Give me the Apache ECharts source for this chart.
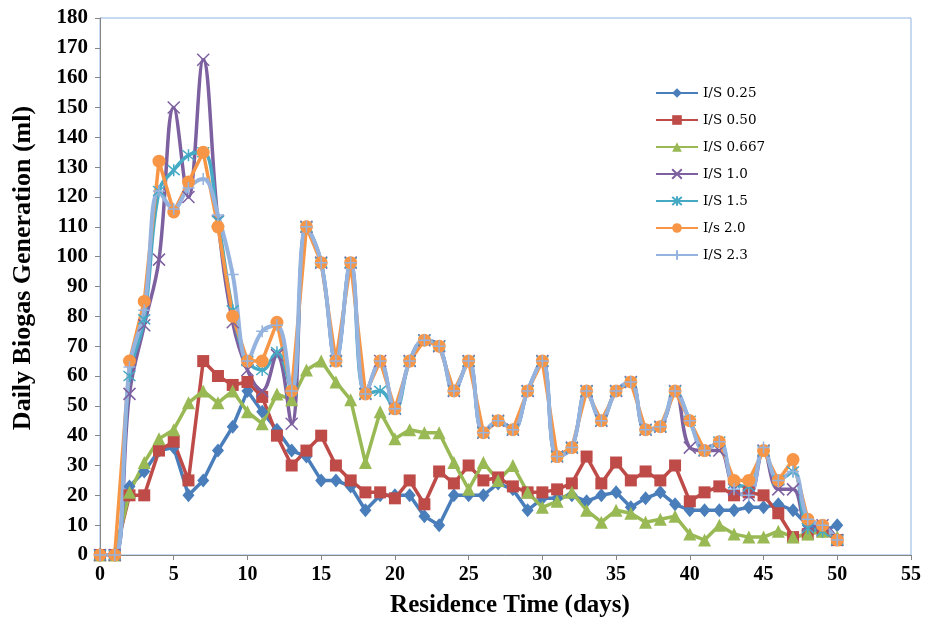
<!DOCTYPE html>
<html>
<head>
<meta charset="utf-8">
<script src="https://cdn.jsdelivr.net/npm/echarts@6/dist/echarts.min.js"></script>
<style>
html,body{margin:0;padding:0;background:#fff;}
#c{width:935px;height:622px;}
</style>
</head>
<body>
<div id="c"></div>
<script>
var days = [0,1,2,3,4,5,6,7,8,9,10,11,12,13,14,15,16,17,18,19,20,21,22,23,24,25,26,27,28,29,30,31,32,33,34,35,36,37,38,39,40,41,42,43,44,45,46,47,48,49,50];
var is025 = [0,0,23,28,35,36,20,25,35,43,55,48,42,35,33,25,25,23,15,20,20,20,13,10,20,20,20,24,22,15,19,19,20,18,20,21,16,19,21,17,15,15,15,15,16,16,17,15,10,8,10];
var is050 = [0,0,20,20,35,38,25,65,60,57,58,53,40,30,35,40,30,25,21,21,19,25,17,28,24,30,25,26,23,21,21,22,24,33,24,31,25,28,25,30,18,21,23,20,21,20,14,6,7,8,5];
var is0667 = [0,0,21,31,39,42,51,55,51,55,48,44,54,52,62,65,58,52,31,48,39,42,41,41,31,22,31,25,30,21,16,18,21,15,11,15,14,11,12,13,7,5,10,7,6,6,8,6,7,8,6];
var is10 = [0,0,54,77,99,150,120,166,112,78,62,55,67,44,110,98,65,98,54,65,49,65,72,70,55,65,41,45,42,55,65,33,36,55,45,55,58,42,43,55,36,35,35,22,20,35,22,22,10,10,5];
var is15 = [0,0,60,79,122,129,134,135,112,82,65,62,68,55,110,98,65,98,54,55,49,65,72,70,55,65,41,45,42,55,65,33,36,55,45,55,58,42,43,55,45,35,38,24,23,35,25,28,9,8,5];
var is20 = [0,0,65,85,132,115,125,135,110,80,65,65,78,55,110,98,65,98,54,65,49,65,72,70,55,65,41,45,42,55,65,33,36,55,45,55,58,42,43,55,45,35,38,25,25,35,25,32,12,10,5];
var is23 = [0,0,63,82,122,116,123,126,114,94,65,75,77,55,110,98,65,98,54,65,49,65,72,70,55,65,41,45,42,55,65,33,36,55,45,55,58,42,43,55,45,35,38,22,20,36,25,28,12,10,5];
var seriesNames = ['I/S 0.25','I/S 0.50','I/S 0.667','I/S 1.0','I/S 1.5','I/s 2.0','I/S 2.3'];
var xTicks = {min:0, max:55, step:5};
var yTicks = {min:0, max:180, step:10};

function pairs(arr){ return days.map(function(d,i){ return [d, arr[i]]; }); }

var X_SYM = 'path://M0,0L10,10M10,0L0,10';
var AST_SYM = 'path://M0,0L10,10M10,0L0,10M5,-1L5,11';
var PLUS_SYM = 'path://M5,0L5,10M0,5L10,5';

var defs = [
  {data:is025, color:'#4A7EBB', symbol:'diamond', size:[12,14], smooth:false, w:3.5},
  {data:is050, color:'#BE4B48', symbol:'rect', size:12, smooth:false, w:3.5},
  {data:is0667, color:'#98B954', symbol:'triangle', size:13, smooth:false, w:3.5},
  {data:is10, color:'#7D60A0', symbol:X_SYM, size:12, smooth:0.4, stroke:true, w:3.5},
  {data:is15, color:'#46AAC5', symbol:AST_SYM, size:12, smooth:0.4, stroke:true, w:3.5},
  {data:is20, color:'#F79646', symbol:'circle', size:13, smooth:false, w:3.5},
  {data:is23, color:'#95B3DF', symbol:PLUS_SYM, size:12, smooth:0.4, stroke:true, w:4}
];

var series = defs.map(function(d, i){
  return {
    name: seriesNames[i],
    type: 'line',
    data: pairs(d.data),
    smooth: d.smooth,
    symbol: d.symbol,
    symbolSize: d.size,
    showAllSymbol: true,
    lineStyle: {color: d.color, width: d.w},
    itemStyle: d.stroke ? {color: d.color, borderColor: d.color, borderWidth: 1.5} : {color: d.color, borderWidth: 0},
    emphasis: {disabled: true},
    animation: false
  };
});

var chart = echarts.init(document.getElementById('c'), null, {renderer:'canvas'});
chart.setOption({
  backgroundColor: '#ffffff',
  animation: false,
  grid: {left:100, right:24, top:18, bottom:67, show:true, borderColor:'#8DB4E2', borderWidth:1, backgroundColor:'transparent'},
  legend: {
    orient: 'vertical',
    left: 650, top: 81,
    itemWidth: 42, itemHeight: 12, itemGap: 13,
    textStyle: {fontFamily:'DejaVu Serif', fontSize:13.5, color:'#000', lineHeight:14},
    data: seriesNames
  },
  xAxis: {
    type: 'value', min: xTicks.min, max: xTicks.max, interval: xTicks.step,
    axisLine: {show:true, onZero:false, lineStyle:{color:'#868686', width:1}},
    axisTick: {show:true, inside:false, length:5, lineStyle:{color:'#868686'}},
    splitLine: {show:false},
    axisLabel: {fontFamily:'Liberation Serif', fontWeight:'bold', fontSize:20, color:'#000', margin:10}
  },
  yAxis: {
    type: 'value', min: yTicks.min, max: yTicks.max, interval: yTicks.step,
    axisLine: {show:true, lineStyle:{color:'#868686', width:1}},
    axisTick: {show:true, inside:false, length:5, lineStyle:{color:'#868686'}},
    splitLine: {show:false},
    axisLabel: {fontFamily:'Liberation Serif', fontWeight:'bold', fontSize:21, color:'#000', margin:12}
  },
  graphic: [
    {type:'text', x:23, y:268, rotation: Math.PI/2,
     style:{text:'Daily Biogas Generation (ml)', x:0, y:0, textAlign:'center', textVerticalAlign:'middle',
            font:'bold 26px "Liberation Serif"', fill:'#000'}},
    {type:'text', x:510, y:606,
     style:{text:'Residence Time (days)', x:0, y:0, textAlign:'center', textVerticalAlign:'middle',
            font:'bold 25px "Liberation Serif"', fill:'#000'}}
  ],
  series: series
});
</script>
</body>
</html>
